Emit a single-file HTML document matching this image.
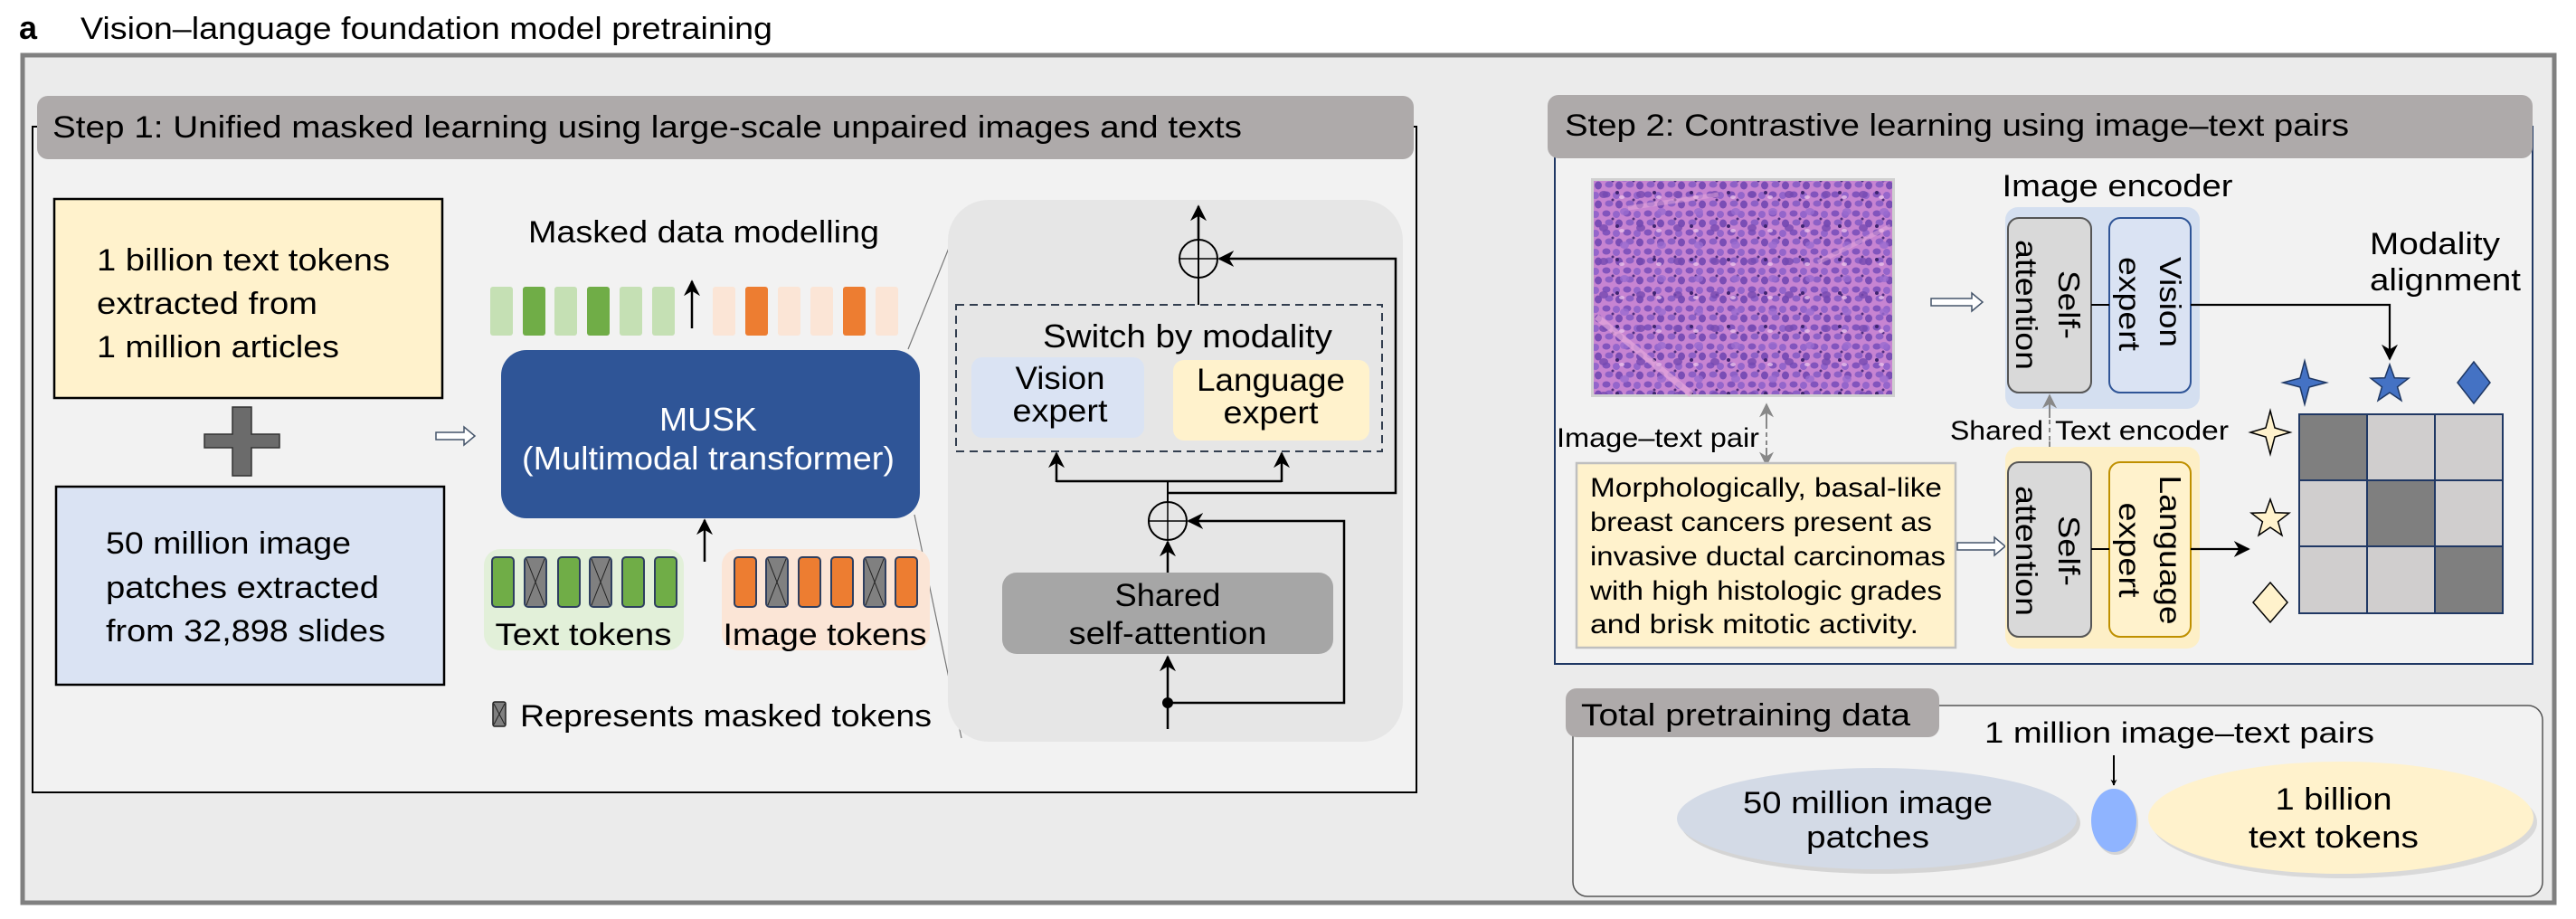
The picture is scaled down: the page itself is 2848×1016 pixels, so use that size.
<!DOCTYPE html>
<html><head><meta charset="utf-8"><style>html,body{margin:0;padding:0;background:#fff}svg{display:block}text{font-family:"Liberation Sans",Arial,sans-serif;fill:#000}</style></head><body>
<svg width="2848" height="1016" viewBox="0 0 2848 1016" xmlns="http://www.w3.org/2000/svg">
<defs>
<marker id="ah" viewBox="0 0 10 10" refX="9" refY="5" markerWidth="7" markerHeight="7" orient="auto-start-reverse" markerUnits="userSpaceOnUse"><path d="M0,0 L10,5 L0,10 L3,5 z" fill="#000"/></marker>
<marker id="ahb" viewBox="0 0 10 10" refX="9" refY="5" markerWidth="18" markerHeight="18" orient="auto-start-reverse" markerUnits="userSpaceOnUse"><path d="M0,0 L10,5 L0,10 L3,5 z" fill="#000"/></marker>
<marker id="ahg" viewBox="0 0 10 10" refX="9" refY="5" markerWidth="16" markerHeight="16" orient="auto-start-reverse" markerUnits="userSpaceOnUse"><path d="M0,0 L10,5 L0,10 L3,5 z" fill="#888"/></marker>
<pattern id="histo" width="23" height="21" patternUnits="userSpaceOnUse">
<rect width="23" height="21" fill="#c784d2"/>
<ellipse cx="5" cy="5" rx="4.5" ry="3.5" fill="#8254bd"/>
<ellipse cx="16" cy="6" rx="4" ry="4" fill="#9465cb"/>
<ellipse cx="19" cy="16" rx="4" ry="4.5" fill="#7a4db5"/>
<ellipse cx="8" cy="15" rx="4.5" ry="3.5" fill="#8d60c6"/>
<circle cx="12" cy="11" r="1.5" fill="#4d2e80"/>
</pattern>
<pattern id="histo2" width="41" height="37" patternUnits="userSpaceOnUse">
<ellipse cx="10" cy="30" rx="5" ry="4" fill="#7448b0" opacity="0.8"/>
<ellipse cx="33" cy="12" rx="5" ry="4" fill="#9a6bd0" opacity="0.8"/>
<circle cx="25" cy="28" r="2" fill="#3e2470"/>
<ellipse cx="30" cy="33" rx="3" ry="2" fill="#e8c0ea" opacity="0.8"/>
</pattern>
</defs>

<text x="21" y="43" font-size="36" font-weight="bold">a</text>
<text x="89" y="43" font-size="34" textLength="765" lengthAdjust="spacingAndGlyphs">Vision–language foundation model pretraining</text>

<rect x="25" y="61" width="2799" height="937" fill="#ebebeb" stroke="#808080" stroke-width="5"/>

<!-- Step 1 -->
<rect x="36" y="140" width="1530" height="736" fill="#f2f2f2" stroke="#000" stroke-width="2"/>
<rect x="41" y="106" width="1522" height="70" rx="12" fill="#aeaaaa"/>
<text x="58" y="152" font-size="34" textLength="1315" lengthAdjust="spacingAndGlyphs">Step 1: Unified masked learning using large-scale unpaired images and texts</text>

<rect x="60" y="220" width="429" height="220" fill="#fff2cc" stroke="#000" stroke-width="2.5"/>
<text x="107" y="299" font-size="34" textLength="324" lengthAdjust="spacingAndGlyphs">1 billion text tokens</text>
<text x="107" y="347" font-size="34" textLength="244" lengthAdjust="spacingAndGlyphs">extracted from</text>
<text x="107" y="395" font-size="34" textLength="268" lengthAdjust="spacingAndGlyphs">1 million articles</text>

<path d="M257,450 H278 V480 H309 V495 H278 V526 H257 V495 H226 V480 H257 Z" fill="#6b6b6b" stroke="#333" stroke-width="1.5"/>

<rect x="62" y="538" width="429" height="219" fill="#dae3f3" stroke="#000" stroke-width="2.5"/>
<text x="117" y="612" font-size="34" textLength="271" lengthAdjust="spacingAndGlyphs">50 million image</text>
<text x="117" y="661" font-size="34" textLength="302" lengthAdjust="spacingAndGlyphs">patches extracted</text>
<text x="117" y="709" font-size="34" textLength="309" lengthAdjust="spacingAndGlyphs">from 32,898 slides</text>

<path d="M482,478 H513 V472 L525,482 L513,492 V486 H482 Z" fill="#fff" stroke="#44546a" stroke-width="1.5"/>

<line x1="1004" y1="386" x2="1066" y2="232" stroke="#777" stroke-width="1.2"/>
<line x1="1011" y1="569" x2="1063" y2="816" stroke="#777" stroke-width="1.2"/>

<text x="584" y="268" font-size="34" textLength="388" lengthAdjust="spacingAndGlyphs">Masked data modelling</text>
<rect x="554" y="387" width="463" height="186" rx="28" fill="#2f5597"/>
<text x="783" y="476" font-size="36" style="fill:#fff" text-anchor="middle" textLength="108" lengthAdjust="spacingAndGlyphs">MUSK</text>
<text x="783" y="519" font-size="36" style="fill:#fff" text-anchor="middle" textLength="412" lengthAdjust="spacingAndGlyphs">(Multimodal transformer)</text>

<g>
<rect x="542" y="317" width="25" height="54" rx="3" fill="#c5e0b4"/>
<rect x="578" y="317" width="25" height="54" rx="3" fill="#70ad47"/>
<rect x="613" y="317" width="25" height="54" rx="3" fill="#c5e0b4"/>
<rect x="649" y="317" width="25" height="54" rx="3" fill="#70ad47"/>
<rect x="685" y="317" width="25" height="54" rx="3" fill="#c5e0b4"/>
<rect x="721" y="317" width="25" height="54" rx="3" fill="#c5e0b4"/>
<rect x="788" y="317" width="25" height="54" rx="3" fill="#fbe5d6"/>
<rect x="824" y="317" width="25" height="54" rx="3" fill="#ed7d31"/>
<rect x="860" y="317" width="25" height="54" rx="3" fill="#fbe5d6"/>
<rect x="896" y="317" width="25" height="54" rx="3" fill="#fbe5d6"/>
<rect x="932" y="317" width="25" height="54" rx="3" fill="#ed7d31"/>
<rect x="968" y="317" width="25" height="54" rx="3" fill="#fbe5d6"/>
</g>
<line x1="765" y1="363" x2="765" y2="311" stroke="#000" stroke-width="2.5" marker-end="url(#ahb)"/>
<line x1="779" y1="621" x2="779" y2="575" stroke="#000" stroke-width="2.5" marker-end="url(#ahb)"/>

<rect x="535" y="607" width="221" height="112" rx="18" fill="#e2f0d9"/>
<g stroke="#2f3f5f" stroke-width="2">
<rect x="544" y="616" width="24" height="55" rx="4" fill="#70ad47"/>
<rect x="580" y="616" width="24" height="55" rx="4" fill="#808080"/>
<rect x="617" y="616" width="24" height="55" rx="4" fill="#70ad47"/>
<rect x="652" y="616" width="24" height="55" rx="4" fill="#808080"/>
<rect x="688" y="616" width="24" height="55" rx="4" fill="#70ad47"/>
<rect x="724" y="616" width="24" height="55" rx="4" fill="#70ad47"/>
</g>
<g stroke="#222" stroke-width="1">
<path d="M582,618 L602,669 M602,618 L582,669"/><path d="M654,618 L674,669 M674,618 L654,669"/>
</g>
<text x="645" y="713" font-size="34" text-anchor="middle" textLength="195" lengthAdjust="spacingAndGlyphs">Text tokens</text>

<rect x="798" y="607" width="230" height="112" rx="18" fill="#fbe5d6"/>
<g stroke="#2f3f5f" stroke-width="2">
<rect x="812" y="616" width="24" height="55" rx="4" fill="#ed7d31"/>
<rect x="847" y="616" width="24" height="55" rx="4" fill="#808080"/>
<rect x="883" y="616" width="24" height="55" rx="4" fill="#ed7d31"/>
<rect x="919" y="616" width="24" height="55" rx="4" fill="#ed7d31"/>
<rect x="955" y="616" width="24" height="55" rx="4" fill="#808080"/>
<rect x="990" y="616" width="24" height="55" rx="4" fill="#ed7d31"/>
</g>
<g stroke="#222" stroke-width="1">
<path d="M849,618 L869,669 M869,618 L849,669"/><path d="M957,618 L977,669 M977,618 L957,669"/>
</g>
<text x="912" y="713" font-size="34" text-anchor="middle" textLength="225" lengthAdjust="spacingAndGlyphs">Image tokens</text>

<rect x="545" y="776" width="14" height="27" rx="2" fill="#808080" stroke="#222" stroke-width="1.5"/>
<path d="M546,778 L558,801 M558,778 L546,801" stroke="#222" stroke-width="1"/>
<text x="575" y="803" font-size="34" textLength="455" lengthAdjust="spacingAndGlyphs">Represents masked tokens</text>

<rect x="1048" y="221" width="503" height="599" rx="45" fill="#e6e6e6"/>
<line x1="1325" y1="265" x2="1325" y2="228" stroke="#000" stroke-width="2.5" marker-end="url(#ahb)"/>
<ellipse cx="1325" cy="286" rx="21" ry="21" fill="none" stroke="#000" stroke-width="2"/>
<line x1="1304" y1="286" x2="1346" y2="286" stroke="#000" stroke-width="1.5"/>
<line x1="1325" y1="265" x2="1325" y2="337" stroke="#000" stroke-width="2"/>
<polyline points="1292,545 1543,545 1543,286 1348,286" fill="none" stroke="#000" stroke-width="2.5" marker-end="url(#ahb)"/>
<rect x="1057" y="337" width="471" height="162" fill="none" stroke="#333f50" stroke-width="2" stroke-dasharray="9,6"/>
<text x="1313" y="384" font-size="36" text-anchor="middle" textLength="320" lengthAdjust="spacingAndGlyphs">Switch by modality</text>
<rect x="1074" y="395" width="191" height="89" rx="12" fill="#dae3f3"/>
<text x="1172" y="430" font-size="35" text-anchor="middle" textLength="99" lengthAdjust="spacingAndGlyphs">Vision</text>
<text x="1172" y="466" font-size="35" text-anchor="middle" textLength="105" lengthAdjust="spacingAndGlyphs">expert</text>
<rect x="1297" y="398" width="217" height="89" rx="12" fill="#fff2cc"/>
<text x="1405" y="432" font-size="35" text-anchor="middle" textLength="164" lengthAdjust="spacingAndGlyphs">Language</text>
<text x="1405" y="468" font-size="35" text-anchor="middle" textLength="105" lengthAdjust="spacingAndGlyphs">expert</text>
<polyline points="1168,532 1417,532" fill="none" stroke="#000" stroke-width="2.5"/>
<line x1="1168" y1="533" x2="1168" y2="501" stroke="#000" stroke-width="2.5" marker-end="url(#ahb)"/>
<line x1="1417" y1="533" x2="1417" y2="501" stroke="#000" stroke-width="2.5" marker-end="url(#ahb)"/>
<line x1="1291" y1="532" x2="1291" y2="555" stroke="#000" stroke-width="2"/>
<ellipse cx="1291" cy="576" rx="21" ry="21" fill="none" stroke="#000" stroke-width="2"/>
<line x1="1270" y1="576" x2="1312" y2="576" stroke="#000" stroke-width="1.5"/>
<line x1="1291" y1="555" x2="1291" y2="597" stroke="#000" stroke-width="1.5"/>
<line x1="1291" y1="633" x2="1291" y2="599" stroke="#000" stroke-width="2.5" marker-end="url(#ahb)"/>
<polyline points="1291,777 1486,777 1486,576 1314,576" fill="none" stroke="#000" stroke-width="2.5" marker-end="url(#ahb)"/>
<rect x="1108" y="633" width="366" height="90" rx="16" fill="#a6a6a6"/>
<text x="1291" y="670" font-size="35" text-anchor="middle" textLength="117" lengthAdjust="spacingAndGlyphs">Shared</text>
<text x="1291" y="712" font-size="35" text-anchor="middle" textLength="219" lengthAdjust="spacingAndGlyphs">self-attention</text>
<line x1="1291" y1="806" x2="1291" y2="726" stroke="#000" stroke-width="2.5" marker-end="url(#ahb)"/>
<circle cx="1291" cy="777" r="6" fill="#000"/>

<!-- Step 2 -->
<rect x="1719" y="140" width="1081" height="594" fill="#f2f2f2" stroke="#203864" stroke-width="2"/>
<rect x="1711" y="105" width="1089" height="70" rx="12" fill="#aeaaaa"/>
<text x="1730" y="150" font-size="34" textLength="867" lengthAdjust="spacingAndGlyphs">Step 2: Contrastive learning using image–text pairs</text>

<rect x="1759" y="197" width="336" height="242" fill="#d0d0d0"/>
<rect x="1762" y="200" width="330" height="236" fill="url(#histo)"/>
<rect x="1762" y="200" width="330" height="236" fill="url(#histo2)"/>
<path d="M1765,350 L1870,436" stroke="#e6a8dc" stroke-width="7" opacity="0.7"/>
<path d="M1800,230 L1900,215" stroke="#e6a8dc" stroke-width="5" opacity="0.5"/>
<path d="M2010,290 L2090,250" stroke="#e6a8dc" stroke-width="5" opacity="0.5"/>

<text x="2341" y="217" font-size="34" text-anchor="middle" textLength="255" lengthAdjust="spacingAndGlyphs">Image encoder</text>
<rect x="2217" y="229" width="215" height="223" rx="14" fill="#d4dff0"/>
<rect x="2220" y="241" width="92" height="193" rx="12" fill="#d9d9d9" stroke="#555" stroke-width="2"/>
<rect x="2332" y="241" width="90" height="193" rx="12" fill="#dae3f3" stroke="#2f5597" stroke-width="2"/>
<line x1="2312" y1="337" x2="2332" y2="337" stroke="#000" stroke-width="2"/>
<text transform="translate(2276,337) rotate(90)" font-size="33" text-anchor="middle" textLength="76" lengthAdjust="spacingAndGlyphs">Self-</text>
<text transform="translate(2229,337) rotate(90)" font-size="33" text-anchor="middle" textLength="144" lengthAdjust="spacingAndGlyphs">attention</text>
<text transform="translate(2388,334) rotate(90)" font-size="33" text-anchor="middle" textLength="100" lengthAdjust="spacingAndGlyphs">Vision</text>
<text transform="translate(2343,336) rotate(90)" font-size="33" text-anchor="middle" textLength="104" lengthAdjust="spacingAndGlyphs">expert</text>
<path d="M2135,330 H2180 V324 L2192,334 L2180,344 V338 H2135 Z" fill="#fff" stroke="#44546a" stroke-width="1.5"/>
<polyline points="2422,337 2642,337 2642,397" fill="none" stroke="#000" stroke-width="2.2" marker-end="url(#ahb)"/>

<text x="2620" y="281" font-size="34" textLength="144" lengthAdjust="spacingAndGlyphs">Modality</text>
<text x="2620" y="321" font-size="34" textLength="167" lengthAdjust="spacingAndGlyphs">alignment</text>

<text x="1721" y="494" font-size="30" textLength="224" lengthAdjust="spacingAndGlyphs">Image–text pair</text>
<line x1="1953" y1="460" x2="1953" y2="500" stroke="#888" stroke-width="2" stroke-dasharray="5,4"/>
<line x1="1953" y1="470" x2="1953" y2="447" stroke="#888" stroke-width="2" marker-end="url(#ahg)"/>
<line x1="1953" y1="495" x2="1953" y2="514" stroke="#888" stroke-width="2" marker-end="url(#ahg)"/>
<text x="2156" y="486" font-size="30" textLength="103" lengthAdjust="spacingAndGlyphs">Shared</text>
<text x="2272" y="486" font-size="30" textLength="192" lengthAdjust="spacingAndGlyphs">Text encoder</text>
<line x1="2266" y1="455" x2="2266" y2="495" stroke="#888" stroke-width="2" stroke-dasharray="5,4"/>
<line x1="2266" y1="462" x2="2266" y2="437" stroke="#888" stroke-width="2" marker-end="url(#ahg)"/>
<line x1="2266" y1="488" x2="2266" y2="510" stroke="#888" stroke-width="2" marker-end="url(#ahg)"/>

<rect x="1743" y="512" width="419" height="204" fill="#fff2cc" stroke="#bfbfbf" stroke-width="2.5"/>
<text x="1758" y="549" font-size="30" textLength="389" lengthAdjust="spacingAndGlyphs">Morphologically, basal-like</text>
<text x="1758" y="587" font-size="30" textLength="378" lengthAdjust="spacingAndGlyphs">breast cancers present as</text>
<text x="1758" y="625" font-size="30" textLength="393" lengthAdjust="spacingAndGlyphs">invasive ductal carcinomas</text>
<text x="1758" y="663" font-size="30" textLength="389" lengthAdjust="spacingAndGlyphs">with high histologic grades</text>
<text x="1758" y="700" font-size="30" textLength="363" lengthAdjust="spacingAndGlyphs">and brisk mitotic activity.</text>
<path d="M2164,600 H2205 V594 L2217,604 L2205,614 V608 H2164 Z" fill="#fff" stroke="#44546a" stroke-width="1.5"/>

<rect x="2217" y="494" width="215" height="223" rx="14" fill="#fdefc6"/>
<rect x="2220" y="511" width="92" height="193" rx="12" fill="#d9d9d9" stroke="#555" stroke-width="2"/>
<rect x="2332" y="511" width="90" height="193" rx="12" fill="#fff2cc" stroke="#bf9000" stroke-width="2"/>
<line x1="2312" y1="607" x2="2332" y2="607" stroke="#000" stroke-width="2"/>
<text transform="translate(2276,609) rotate(90)" font-size="33" text-anchor="middle" textLength="78" lengthAdjust="spacingAndGlyphs">Self-</text>
<text transform="translate(2229,609) rotate(90)" font-size="33" text-anchor="middle" textLength="144" lengthAdjust="spacingAndGlyphs">attention</text>
<text transform="translate(2388,608) rotate(90)" font-size="33" text-anchor="middle" textLength="165" lengthAdjust="spacingAndGlyphs">Language</text>
<text transform="translate(2343,608) rotate(90)" font-size="33" text-anchor="middle" textLength="105" lengthAdjust="spacingAndGlyphs">expert</text>
<line x1="2422" y1="607" x2="2486" y2="607" stroke="#000" stroke-width="2.2" marker-end="url(#ahb)"/>

<path transform="translate(2548,423)" d="M0,-24 L5,-5 L24,0 L5,5 L0,24 L-5,5 L-24,0 L-5,-5 Z" fill="#4472c4" stroke="#1f3864" stroke-width="1.5"/>
<path transform="translate(2642,425)" d="M0,-22 L5.29,-7.28 L20.92,-6.8 L8.56,2.78 L12.93,17.8 L0,9 L-12.93,17.8 L-8.56,2.78 L-20.92,-6.8 L-5.29,-7.28 Z" fill="#4472c4" stroke="#1f3864" stroke-width="1.5"/>
<path transform="translate(2735,423)" d="M0,-23 L18,0 L0,23 L-18,0 Z" fill="#4472c4" stroke="#1f3864" stroke-width="1.5"/>
<path transform="translate(2510,478)" d="M0,-24 L5,-5 L22,0 L5,5 L0,24 L-5,5 L-22,0 L-5,-5 Z" fill="#fff2cc" stroke="#000" stroke-width="1.5"/>
<path transform="translate(2510,574)" d="M0,-22 L5.29,-7.28 L20.92,-6.8 L8.56,2.78 L12.93,17.8 L0,9 L-12.93,17.8 L-8.56,2.78 L-20.92,-6.8 L-5.29,-7.28 Z" fill="#fff2cc" stroke="#000" stroke-width="1.5"/>
<path transform="translate(2510,666)" d="M0,-22 L19,0 L0,22 L-19,0 Z" fill="#fff2cc" stroke="#000" stroke-width="1.5"/>

<g stroke="#203864" stroke-width="2">
<rect x="2542" y="458" width="75" height="73" fill="#7f7f7f"/>
<rect x="2617" y="458" width="75" height="73" fill="#d0cece"/>
<rect x="2692" y="458" width="75" height="73" fill="#d0cece"/>
<rect x="2542" y="531" width="75" height="73" fill="#d0cece"/>
<rect x="2617" y="531" width="75" height="73" fill="#7f7f7f"/>
<rect x="2692" y="531" width="75" height="73" fill="#d0cece"/>
<rect x="2542" y="604" width="75" height="74" fill="#d0cece"/>
<rect x="2617" y="604" width="75" height="74" fill="#d0cece"/>
<rect x="2692" y="604" width="75" height="74" fill="#7f7f7f"/>
</g>

<!-- Total -->
<rect x="1739" y="780" width="1072" height="211" rx="16" fill="#f2f2f2" stroke="#555" stroke-width="1.5"/>
<rect x="1731" y="761" width="413" height="54" rx="12" fill="#aeaaaa"/>
<text x="1748" y="802" font-size="34" textLength="364" lengthAdjust="spacingAndGlyphs">Total pretraining data</text>
<text x="2194" y="821" font-size="32" textLength="431" lengthAdjust="spacingAndGlyphs">1 million image–text pairs</text>
<line x1="2337" y1="835" x2="2337" y2="868" stroke="#000" stroke-width="2" marker-end="url(#ah)"/>
<ellipse cx="2079" cy="910" rx="221" ry="56" fill="#c8c8c8" opacity="0.7"/>
<ellipse cx="2075" cy="905" rx="221" ry="56" fill="#d3dae6"/>
<text x="2065" y="899" font-size="34" text-anchor="middle" textLength="276" lengthAdjust="spacingAndGlyphs">50 million image</text>
<text x="2065" y="937" font-size="34" text-anchor="middle" textLength="136" lengthAdjust="spacingAndGlyphs">patches</text>
<ellipse cx="2339" cy="910" rx="25" ry="35" fill="#c8c8c8" opacity="0.7"/>
<ellipse cx="2337" cy="907" rx="25" ry="35" fill="#8fb4ff"/>
<ellipse cx="2592" cy="909" rx="213" ry="62" fill="#c8c8c8" opacity="0.6"/>
<ellipse cx="2588" cy="904" rx="213" ry="62" fill="#fff2cc"/>
<text x="2580" y="895" font-size="34" text-anchor="middle" textLength="129" lengthAdjust="spacingAndGlyphs">1 billion</text>
<text x="2580" y="937" font-size="34" text-anchor="middle" textLength="188" lengthAdjust="spacingAndGlyphs">text tokens</text>
</svg>
</body></html>
